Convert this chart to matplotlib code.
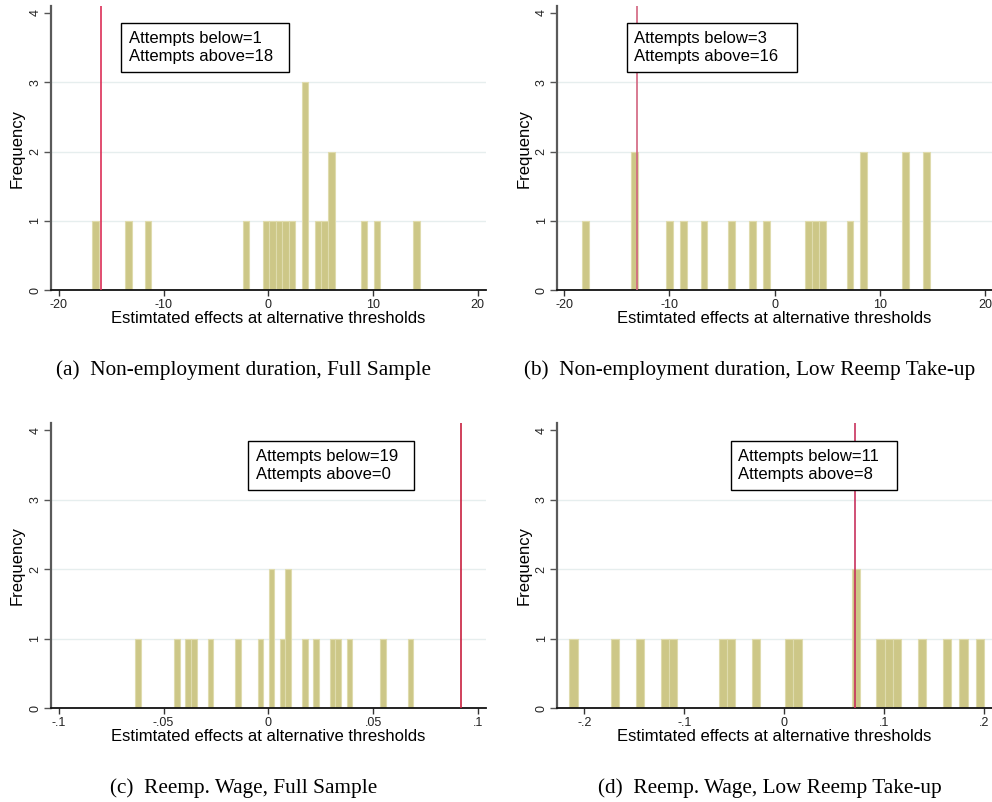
import numpy as np
import matplotlib
matplotlib.use("Agg")
import matplotlib.pyplot as plt
from matplotlib.patches import Rectangle

# Estimated effects at the 19 alternative thresholds, per outcome/sample
est_a = [-16.82, -13.38, -11.50, -2.12, -0.24, 0.38, 1.01, 1.63, 2.26,
         3.35, 3.51, 3.66, 4.76, 5.39, 5.90, 6.10, 9.14, 10.39, 14.46]
est_b = [-18.29, -13.55, -13.30, -10.03, -8.70, -6.72, -4.07, -2.09, -0.77,
         3.20, 3.86, 4.52, 7.17, 8.35, 8.62, 12.30, 12.60, 14.45, 14.77]
est_c = [-0.06343, -0.04354, -0.03824, -0.03559, -0.02763, -0.01437, -0.00376,
         0.00080, 0.00240, 0.00685, 0.00880, 0.01020, 0.01745, 0.02276,
         0.03071, 0.03336, 0.03867, 0.05458, 0.06916]
est_d = [-0.2150, -0.16935, -0.14445, -0.11955, -0.11125, -0.06145, -0.05315,
         -0.02825, 0.00505, 0.01335, 0.0690, 0.0725, 0.09625, 0.10455,
         0.11285, 0.13775, 0.16265, 0.17925, 0.2000]

# Baseline estimate (vertical line) for each panel
thr_a = -16.02
thr_b = -13.12
thr_c = 0.0919
thr_d = 0.0707

captions = ["(a)  Non-employment duration, Full Sample",
            "(b)  Non-employment duration, Low Reemp Take-up",
            "(c)  Reemp. Wage, Full Sample",
            "(d)  Reemp. Wage, Low Reemp Take-up"]

xticks_dur = [-20, -10, 0, 10, 20]
xlabels_dur = ["-20", "-10", "0", "10", "20"]
xticks_c = [-0.1, -0.05, 0, 0.05, 0.1]
xlabels_c = ["-.1", "-.05", "0", ".05", ".1"]
xticks_d = [-0.2, -0.1, 0, 0.1, 0.2]
xlabels_d = ["-.2", "-.1", "0", ".1", ".2"]
yticks = [0, 1, 2, 3, 4]
n_bins = 50

W, H = 992, 802
fig = plt.figure(figsize=(W / 100, H / 100), dpi=100)

SANS = "Liberation Sans"
SERIF = "Liberation Serif"
BAR_FC = "#cdc787"
BAR_EC = "#dfdbad"
GRID = "#e6eeee"


def px_axes(left, top, right, bottom):
    return fig.add_axes([left / W, 1 - bottom / H, (right - left) / W, (bottom - top) / H])


panels = [
    dict(est=est_a, thr=thr_a, line="#dc2f57", box=(121.3, 23.3, 289.3, 72.3),
         rect=(51, 6, 485.7, 290.3), xlim=(-20.76, 20.76),
         xt=xticks_dur, xl=xlabels_dur),
    dict(est=est_b, thr=thr_b, line="#d2647f", box=(627, 23.3, 796.7, 72.3),
         rect=(557.3, 6, 992, 290.3), xlim=(-20.665, 20.665),
         xt=xticks_dur, xl=xlabels_dur),
    dict(est=est_c, thr=thr_c, line="#c8203f", box=(248.3, 441.3, 414.3, 490.3),
         rect=(51, 423.3, 485.7, 708.3), xlim=(-0.1037, 0.1037),
         xt=xticks_c, xl=xlabels_c),
    dict(est=est_d, thr=thr_d, line="#c8325e", box=(731, 440.7, 897.3, 490.3),
         rect=(557.3, 423.3, 992, 708.3), xlim=(-0.2270, 0.2077),
         xt=xticks_d, xl=xlabels_d),
]

for p in panels:
    ax = px_axes(*p["rect"])
    est = np.asarray(p["est"])
    ax.hist(est, bins=n_bins, color=BAR_FC, edgecolor=BAR_EC, linewidth=0.8, zorder=2)
    ax.axvline(p["thr"], color=p["line"], lw=1.2, zorder=3)
    ax.set_xlim(*p["xlim"])
    ax.set_ylim(0, 4.1)
    for g in (1, 2, 3):
        ax.axhline(g, color=GRID, lw=1.0, zorder=1)

    ax.set_xticks(p["xt"])
    ax.set_xticklabels(p["xl"], fontfamily=SANS, fontsize=9, color="#222222")
    ax.set_yticks(yticks)
    ax.set_yticklabels([str(v) for v in yticks], fontfamily=SANS, fontsize=9,
                       color="#222222", rotation=90, va="center")
    ax.tick_params(axis="x", length=4.5, width=1.0, pad=1.5, color="#333333")
    ax.tick_params(axis="y", length=5, width=1.0, pad=2, color="#555555")

    for s in ("top", "right"):
        ax.spines[s].set_visible(False)
    ax.spines["left"].set_color("#5a5a5a")
    ax.spines["left"].set_linewidth(1.6)
    ax.spines["bottom"].set_color("#111111")
    ax.spines["bottom"].set_linewidth(1.3)

    ax.set_xlabel("Estimtated effects at alternative thresholds", fontfamily=SANS,
                  fontsize=12, labelpad=0.5)
    ax.set_ylabel("Frequency", fontfamily=SANS, fontsize=12, labelpad=3)

    # count of estimates on each side of the baseline
    below = int((est < p["thr"]).sum())
    above = int((est > p["thr"]).sum())

    bx0, by0, bx1, by1 = p["box"]
    fig.patches.append(Rectangle((bx0 / W, 1 - by1 / H), (bx1 - bx0) / W, (by1 - by0) / H,
                                 transform=fig.transFigure, fc="white", ec="black",
                                 lw=1.0, zorder=5))
    fig.text((bx0 + 7.5) / W, 1 - ((by0 + by1) / 2) / H,
             f"Attempts below={below}\nAttempts above={above}",
             fontfamily=SANS, fontsize=12, va="center", ha="left",
             linespacing=1.25, zorder=6)

cap_pos = [(244, 370), (750, 370), (244, 788), (770, 788)]
for (cx, cy), cap in zip(cap_pos, captions):
    fig.text(cx / W, 1 - cy / H, cap, fontfamily=SERIF, fontsize=15.3,
             ha="center", va="center")

fig.savefig("out.png", dpi=100)
